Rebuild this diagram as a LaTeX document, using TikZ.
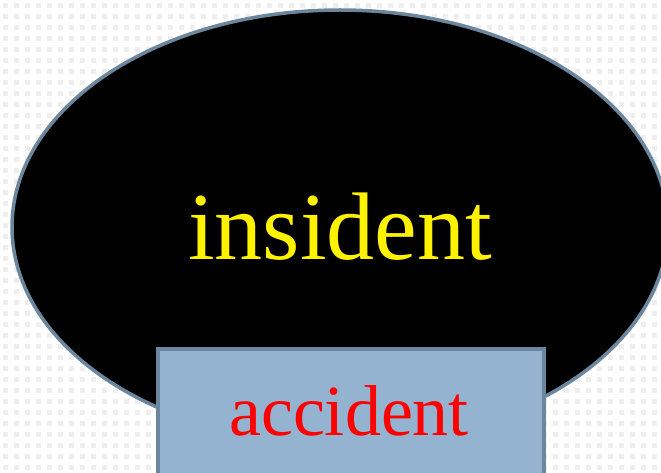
\documentclass[tikz,border=0pt]{standalone}
\usepackage{fontspec}
\setmainfont{Liberation Serif}
\usetikzlibrary{shapes.geometric}
\definecolor{randgrijs}{RGB}{108,134,158}
\definecolor{vakblauw}{RGB}{147,179,208}
\definecolor{stipgrijs}{RGB}{238,238,238}
\begin{document}
\begin{tikzpicture}[x=1pt, y=-1pt]
            % --- ACHTERGROND ---
            \useasboundingbox (0,0) rectangle (661,473);
            \clip (0,0) rectangle (661,473);
            \fill[white] (0,0) rectangle (661,473);
            \foreach \i in {0,...,60} {
                \foreach \j in {0,...,43} {
                    \fill[stipgrijs] (\i*11+3, \j*11+3) rectangle +(5,5);
                }
            }

            % Ellips (insident)
            \node[ellipse, draw=randgrijs, fill=black, line width=3.5pt, inner sep=0pt,
                  minimum width=656pt, minimum height=434pt, text=yellow,
                  font=\fontsize{96}{100}\selectfont] (insident) at (340,227) {insident};

            % Rechthoek (accident)
            \node[rectangle, draw=randgrijs, fill=vakblauw, line width=3.5pt, inner sep=0pt,
                  minimum width=386pt, minimum height=140pt, anchor=north west] (accident) at (156,347) {};
            \node[text=red, font=\fontsize{72}{80}\selectfont, inner sep=0pt] (accidenttekst) at (349,411) {accident};
        \end{tikzpicture}
\end{document}
